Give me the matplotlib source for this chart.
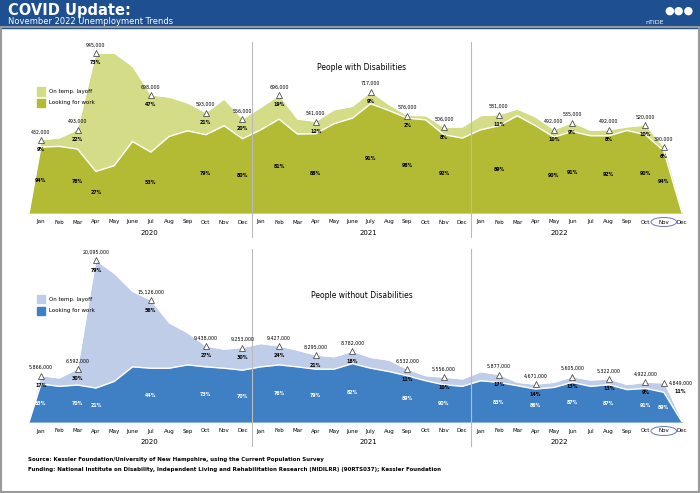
import matplotlib
matplotlib.use('Agg')
from matplotlib import pyplot as plt
from matplotlib.patches import Rectangle, Ellipse

months = ['Jan', 'Feb', 'Mar', 'Apr', 'May', 'June', 'Jul', 'Aug', 'Sep', 'Oct', 'Nov', 'Dec',
          'Jan', 'Feb', 'Mar', 'Apr', 'May', 'June', 'July', 'Aug', 'Sep', 'Oct', 'Nov', 'Dec',
          'Jan', 'Feb', 'Mar', 'Apr', 'May', 'Jun', 'Jul', 'Aug', 'Sep', 'Oct', 'Nov', 'Dec']
years = ['2020', '2021', '2022']
year_pos = [5.9, 17.9, 28.3]

# People with disabilities (thousands), total unemployed and looking for work
pwd_total = [432, 443, 493, 945, 945, 866, 698, 685, 650, 593, 673, 556,
             624, 696, 555, 541, 610, 630, 717, 640, 576, 575, 506, 508,
             575, 581, 614, 567, 492, 535, 488, 492, 508, 520, 390, 0]
pwd_look = [390, 394, 378, 246, 280, 423, 360, 453, 486, 463, 516, 439,
            492, 555, 467, 469, 528, 561, 646, 606, 561, 551, 463, 443,
            492, 516, 575, 516, 449, 482, 457, 457, 488, 463, 367, 0]
pwd_notes = [(0, '432,000', '9%', '94%'), (2, '493,000', '22%', '78%'), (3, '945,000', '73%', '27%'),
             (6, '698,000', '47%', '53%'), (9, '593,000', '21%', '79%'), (11, '556,000', '20%', '80%'),
             (13, '696,000', '19%', '81%'), (15, '541,000', '12%', '88%'), (18, '717,000', '9%', '91%'),
             (20, '576,000', '2%', '98%'), (22, '506,000', '8%', '92%'), (25, '581,000', '11%', '89%'),
             (28, '492,000', '10%', '90%'), (29, '535,000', '9%', '91%'), (31, '492,000', '8%', '92%'),
             (33, '520,000', '10%', '90%'), (34, '390,000', '6%', '94%')]

# People without disabilities (thousands)
pwod_total = [5740, 5453, 6592, 20095, 18450, 16195, 15126, 12300, 11070, 9438, 9020, 9253,
              9720, 9427, 8900, 8295, 8080, 8782, 8000, 7670, 6532, 5740, 5556, 5330,
              6230, 5877, 4920, 4671, 4920, 5605, 5200, 5322, 4630, 4922, 4849, 0]
pwod_look = [4715, 4430, 4590, 4220, 5040, 6850, 6680, 6680, 7090, 6850, 6680, 6440,
             6850, 7090, 6850, 6560, 6560, 7260, 6680, 6270, 5740, 5125, 4630, 4430,
             5125, 4920, 4510, 4100, 4300, 4920, 4430, 4630, 4020, 4180, 3690, 0]
pwod_notes = [(0, '5,866,000', '17%', '83%'), (2, '6,592,000', '30%', '70%'), (3, '20,095,000', '79%', '21%'),
              (6, '15,126,000', '56%', '44%'), (9, '9,438,000', '27%', '73%'), (11, '9,253,000', '30%', '70%'),
              (13, '9,427,000', '24%', '76%'), (15, '8,295,000', '21%', '79%'), (17, '8,782,000', '18%', '82%'),
              (20, '6,532,000', '11%', '89%'), (22, '5,556,000', '10%', '90%'), (25, '5,877,000', '17%', '83%'),
              (27, '4,671,000', '14%', '86%'), (29, '5,605,000', '13%', '87%'), (31, '5,322,000', '13%', '87%'),
              (33, '4,922,000', '9%', '91%'), (34, '4,849,000', '11%', '89%')]

W, H = 700, 493
fig = plt.figure(figsize=(7, 4.93), dpi=100)
fig.patch.set_facecolor('white')
# header band and border
fig.patches.append(Rectangle((0, 1 - 28 / H), 1, 28 / H, transform=fig.transFigure, color='#1d4f91', zorder=0))
fig.patches.append(Rectangle((0.002, 0.002), 0.996, 1 - 28 / H, transform=fig.transFigure,
                             fill=False, edgecolor='#999999', lw=1.5, zorder=0))
fig.text(8 / W, 1 - 11 / H, 'COVID Update:', color='white', fontsize=10.5, fontweight='bold', va='center')
fig.text(8 / W, 1 - 22 / H, 'November 2022 Unemployment Trends', color='white', fontsize=6, va='center')
fig.text(664 / W, 1 - 22 / H, 'nTIDE', color='white', fontsize=4.5, va='center', ha='right')
fig.text(694 / W, 1 - 11 / H, '\u25cf\u25cf\u25cf', color='white', fontsize=8, va='center', ha='right')


def panel(bottom_px, top_px, title_px, total, look, notes, light, dark, title, scale, look_color, last_right):
    h = bottom_px - top_px
    ax = fig.add_axes([29 / W, 1 - bottom_px / H, (683 - 29) / W, h / H])
    x = [-0.65] + list(range(len(total)))
    tot = [0] + total
    lk = [0] + look
    ax.fill_between(x, 0, tot, color=light, lw=0)
    ax.fill_between(x, 0, lk, color=dark, lw=0)
    ax.plot(x, lk, color='white', lw=1)
    ax.plot(x[:-1], tot[:-1], color='white', lw=0.6)
    ax.set_xlim(-0.65, 35.05)
    ax.set_ylim(0, max(total) * 1.02)
    ax.axis('off')
    xt = ax.get_xaxis_transform()
    for b in (11.5, 23.5):
        ax.axvline(b, ymin=-24 / h, ymax=(h + 8) / h, color='#bbbbbb', lw=0.8, clip_on=False)
    for i, m in enumerate(months):
        ax.text(i, -9 / h, m, transform=xt, ha='center', va='center', fontsize=4)
    for k, yr in enumerate(years):
        ax.text(year_pos[k], -20 / h, yr, transform=xt, ha='center', va='center', fontsize=5)
    ax.add_patch(Ellipse((34, -9 / h), 1.4, 9 / h, transform=xt,
                         fill=False, edgecolor='#6677bb', lw=0.7, clip_on=False))
    ax.text(17.5, (bottom_px - title_px) / h, title, transform=xt, ha='center', va='center', fontsize=5.5)
    for i, lab, p1, p2 in notes:
        v = total[i]
        ax.plot(i, v, marker='^', ms=4, mfc='white', mec='#333333', mew=0.5)
        if last_right and i == notes[-1][0]:
            ax.text(i + 0.3, v, lab, ha='left', va='center', fontsize=3.4)
            ax.text(i + 0.6, v - scale * 0.05, p1, ha='left', va='center', fontsize=3.4, fontweight='bold')
        else:
            ax.text(i, v + scale * 0.035, lab, ha='center', va='bottom', fontsize=3.4)
            ax.text(i, v - scale * 0.045, p1, ha='center', va='top', fontsize=3.4, fontweight='bold')
        ax.text(i, look[i] * 0.5, p2, ha='center', va='center', fontsize=3.4,
                color=look_color, fontweight='bold')
    # legend
    ax.add_patch(Rectangle((0.012, 0.72), 0.012, 0.05, transform=ax.transAxes, color=light, clip_on=False))
    ax.add_patch(Rectangle((0.012, 0.65), 0.012, 0.05, transform=ax.transAxes, color=dark, clip_on=False))
    ax.text(0.03, 0.745, 'On temp. layoff', transform=ax.transAxes, fontsize=4, va='center')
    ax.text(0.03, 0.675, 'Looking for work', transform=ax.transAxes, fontsize=4, va='center')
    return ax


panel(213, 50, 67, pwd_total, pwd_look, pwd_notes, '#d4dc88', '#b2bb33', 'People with Disabilities',
      945, 'black', False)
panel(422, 257, 296, pwod_total, pwod_look, pwod_notes, '#c0cde9', '#3f80c4', 'People without Disabilities',
      20095, 'white', True)

fig.text(28 / W, 1 - 460 / H, 'Source: Kessler Foundation/University of New Hampshire, using the Current Population Survey',
         fontsize=4, fontweight='bold', va='center')
fig.text(28 / W, 1 - 469 / H, 'Funding: National Institute on Disability, Independent Living and Rehabilitation Research '
         '(NIDILRR) (90RTS037); Kessler Foundation', fontsize=4, fontweight='bold', va='center')

plt.savefig('out.png', dpi=100)
